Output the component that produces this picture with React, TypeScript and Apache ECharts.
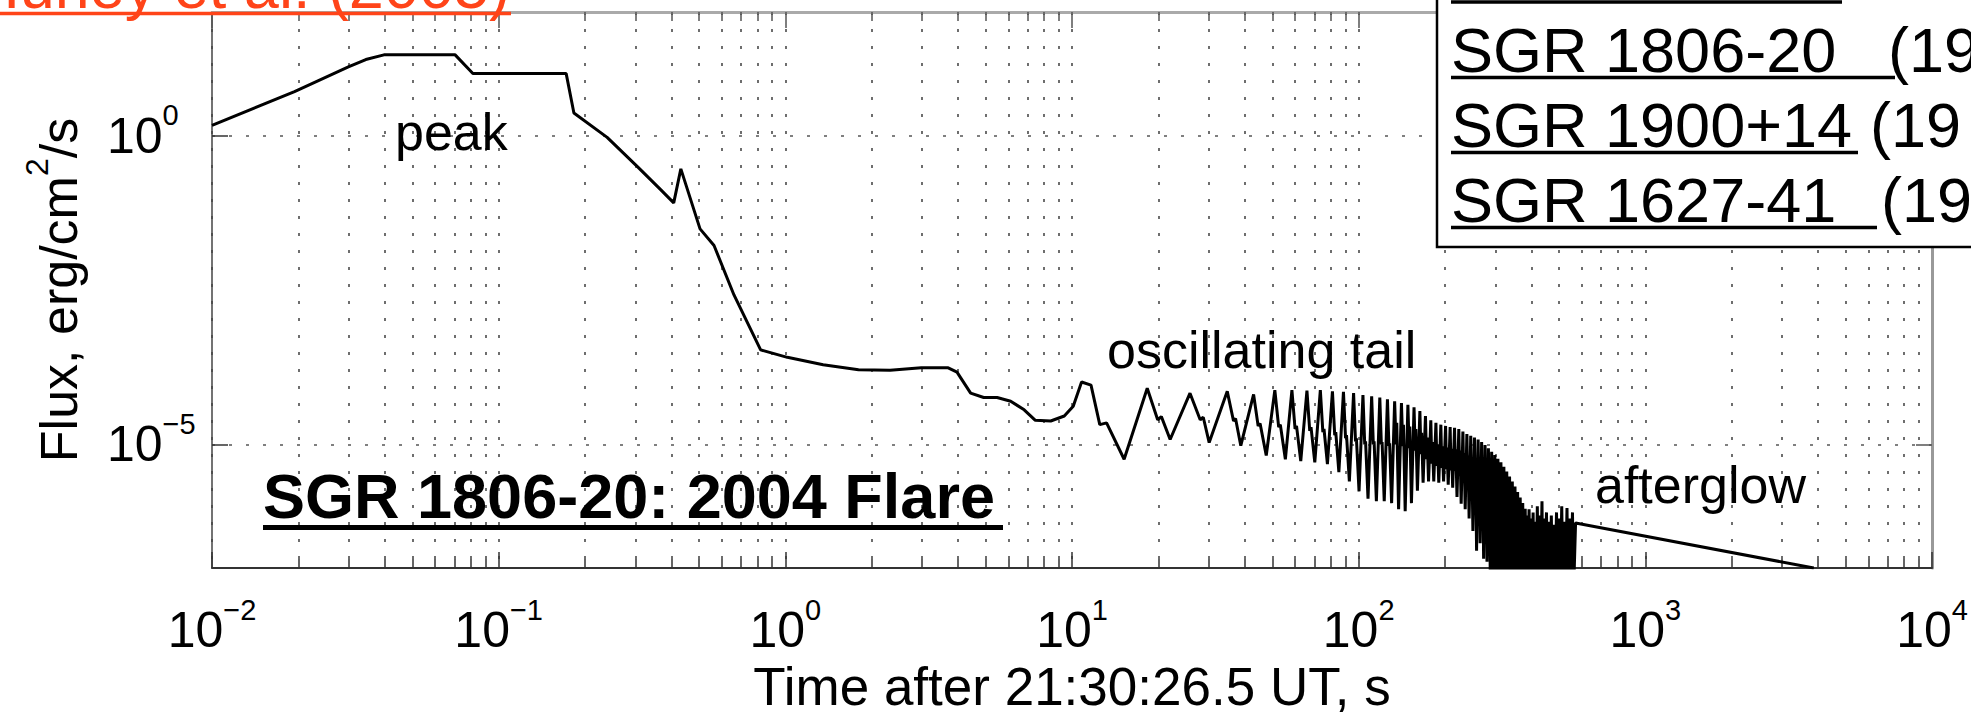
import React, { useEffect, useRef } from 'react';
import * as echarts from 'echarts';

// ---------- data (time in s, flux as log10 of erg/cm^2/s) ----------
const xMin = 0.01;
const xMax = 10000;
const yMin = 1e-7;
const yMax = 100;
const yTickValues = [1e-5, 1];

const flarePoints: [number, number][] = [
  [0.01, 0.165], [0.0194, 0.712], [0.0299, 1.11], [0.0344, 1.23], [0.0398, 1.306],
  [0.0705, 1.306], [0.0813, 1.003], [0.172, 1.003], [0.183, 0.366], [0.239, -0.03],
  [0.306, -0.51], [0.368, -0.88], [0.408, -1.09], [0.432, -0.54], [0.504, -1.51],
  [0.564, -1.78], [0.662, -2.58], [0.82, -3.47], [1.016, -3.59], [1.355, -3.71],
  [1.8, -3.79], [2.32, -3.8], [2.98, -3.76], [3.7, -3.76], [3.97, -3.83],
  [4.43, -4.17], [4.92, -4.24], [5.48, -4.24], [6.11, -4.3], [6.81, -4.44],
  [7.45, -4.61], [8.43, -4.62], [9.4, -4.54], [10.1, -4.38],
];

const tailPoints: [number, number][] = [
  [10.8, -3.99], [11.65, -4.04], [12.5, -4.68], [13.2, -4.65], [15.2, -5.24],
  [18.3, -4.09], [19.9, -4.6], [20.5, -4.55], [22.0, -4.92],
  [25.8, -4.17], [28.0, -4.6], [28.7, -4.56], [30.1, -4.97],
  [34.8, -4.14], [36.6, -4.62], [37.2, -4.58], [38.8, -5.02],
  [43.0, -4.19], [44.6, -4.7], [45.3, -4.66], [47.6, -5.18],
  [51.0, -4.12], [52.6, -4.72], [53.3, -4.68], [55.5, -5.24],
  [58.5, -4.12], [60.0, -4.75], [60.7, -4.7], [62.8, -5.27],
  [66.0, -4.13], [67.5, -4.78], [68.2, -4.72], [70.3, -5.29],
  [73.5, -4.12], [75.0, -4.8], [75.7, -4.75], [77.8, -5.32],
  [81.0, -4.14], [82.5, -4.85], [83.2, -4.8], [85.3, -5.45],
  [88.5, -4.15], [90.0, -4.9], [90.7, -4.85], [92.8, -5.6],
  [96.0, -4.17], [97.5, -4.95], [98.2, -4.9], [100.3, -5.76],
  [103.5, -4.2], [105.0, -5.0], [105.7, -4.95], [107.8, -5.88],
  [111.0, -4.22], [112.5, -5.0], [113.2, -4.95], [115.3, -5.92],
  [118.5, -4.24], [120.0, -5.0], [120.7, -4.96], [122.8, -5.92],
  [126.0, -4.27], [127.5, -5.02], [128.2, -4.98], [130.3, -5.95],
  [133.5, -4.3], [135.0, -5.0], [135.8, -4.65], [137.8, -6.05],
  [141.0, -4.33], [142.5, -5.03], [143.3, -4.68], [145.3, -6.08],
  [148.5, -4.36], [150.0, -5.06], [150.8, -4.71], [152.8, -5.95],
  [156.0, -4.4], [157.5, -5.1], [158.3, -4.75], [160.3, -5.75],
  [163.5, -4.46], [165.0, -5.16], [165.8, -4.81], [167.8, -5.62],
  [171.0, -4.54], [172.5, -5.24], [173.3, -4.89], [175.3, -5.6],
  [178.5, -4.61], [180.0, -5.31], [180.8, -4.96], [182.8, -5.6],
  [186.0, -4.65], [187.5, -5.35], [188.3, -5.0], [190.3, -5.62],
  [193.5, -4.68], [195.0, -5.38], [195.8, -5.03], [197.8, -5.6],
  [201.0, -4.7], [202.5, -5.4], [203.3, -5.05], [205.3, -5.65],
  [208.5, -4.72], [210.0, -5.42], [210.8, -5.07], [212.8, -5.7],
  [216.0, -4.73], [217.5, -5.43], [218.3, -5.08], [220.3, -5.85],
  [223.5, -4.75], [225.0, -5.45], [225.8, -5.1], [227.8, -5.96],
  [231.0, -4.79], [232.5, -5.49], [233.3, -5.14], [235.3, -6.05],
  [238.5, -4.83], [240.0, -5.53], [240.8, -5.18], [242.8, -6.2],
  [246.0, -4.86], [247.5, -5.56], [248.3, -5.21], [250.3, -6.4],
  [253.5, -4.89], [255.0, -5.59], [255.8, -5.24], [257.8, -6.72],
  [261.0, -4.92], [262.5, -5.62], [263.3, -5.27], [265.3, -6.6],
  [268.5, -4.96], [270.0, -5.66], [270.8, -5.31], [272.8, -6.85],
  [276.0, -5.01], [277.5, -5.71], [278.3, -5.36], [280.3, -6.9],
  [283.5, -5.06], [285.0, -5.76], [285.8, -5.41], [287.8, -7.2],
  [291.0, -5.12], [292.5, -5.82], [293.3, -5.47], [295.3, -7.3],
  [298.5, -5.17], [300.0, -5.87], [300.8, -5.52], [302.8, -7.3],
  [306.0, -5.23], [307.5, -5.93], [308.3, -5.58], [310.3, -7.3],
  [313.5, -5.29], [315.0, -5.99], [315.8, -5.64], [317.8, -7.3],
  [321.0, -5.36], [322.5, -6.06], [323.3, -5.71], [325.3, -7.3],
  [328.5, -5.44], [330.0, -6.14], [330.8, -5.79], [332.8, -7.3],
  [336.0, -5.52], [337.5, -6.22], [338.3, -5.87], [340.3, -7.3],
  [343.5, -5.6], [345.0, -6.3], [345.8, -5.95], [347.8, -7.3],
  [351.0, -5.68], [352.5, -6.38], [353.3, -6.03], [355.3, -7.3],
  [358.5, -5.77], [360.0, -6.47], [360.8, -6.12], [362.8, -7.3],
  [366.0, -5.86], [367.5, -6.56], [368.3, -6.21], [370.3, -7.3],
  [373.5, -5.95], [375.0, -6.65], [375.8, -6.3], [377.8, -7.3],
  [381.0, -6.04], [382.5, -6.74], [383.3, -6.39], [384.5, -7.3],
];

const noisePoints: [number, number][] = [
  [386, -6.15], [389, -7.4], [393, -6.05], [396, -7.4], [399, -6.2], [402, -7.3],
  [406, -6.1], [409, -7.4], [413, -6.25], [416, -7.3], [420, -6.0], [423, -7.4],
  [428, -6.15], [431, -7.3], [436, -5.92], [439, -7.4], [444, -6.2], [447, -7.3],
  [452, -6.1], [456, -7.4], [461, -6.25], [465, -7.3], [470, -6.15], [474, -7.4],
  [480, -6.3], [484, -7.3], [490, -6.1], [494, -7.4], [500, -6.2], [505, -7.3],
  [511, -6.0], [516, -7.4], [522, -6.25], [527, -7.3], [533, -6.03], [538, -7.4],
  [545, -6.2], [550, -7.3], [557, -6.1], [562, -7.4],
];

const afterglowPoints: [number, number][] = [
  [571, -6.27], [3870, -7.0],
];

const legendRows = ['SGR 1806-20', 'SGR 1900+14', 'SGR 1627-41'];
const legendYears = ['(19', '(19', '(19'];

// ---------- styling ----------
const FONT = "'Liberation Sans', Arial, Helvetica, sans-serif";
const gridLine = { type: [3, 14] as number[], color: '#555', width: 1.7 };

const supText = (n: number) => (n < 0 ? '\u2212' + Math.abs(n) : String(n));
const logLabel = (v: number) => `{b|10}{s|${supText(Math.round(Math.log10(v)))}}`;
const labelRich = {
  b: { fontSize: 50, fontFamily: FONT, color: '#000', lineHeight: 70 },
  s: { fontSize: 29, fontFamily: FONT, color: '#000', verticalAlign: 'top' },
};

const textEl = (
  text: string, x: number, baseline: number, size: number,
  opts: { weight?: string; color?: string; align?: string } = {}
) => ({
  type: 'text',
  x,
  y: baseline - 0.3465 * size,
  z: 100,
  silent: true,
  style: {
    text,
    fontSize: size,
    fontFamily: FONT,
    fontWeight: opts.weight || 'normal',
    fill: opts.color || '#000',
    align: opts.align || 'left',
    textAlign: opts.align || 'left',
    verticalAlign: 'middle',
    textVerticalAlign: 'middle',
  },
});

const bar = (x1: number, x2: number, y: number, h: number, color = '#000') => ({
  type: 'rect',
  z: 100,
  silent: true,
  shape: { x: x1, y: y - h / 2, width: x2 - x1, height: h },
  style: { fill: color },
});

export default function App() {
  const ref = useRef<HTMLDivElement>(null);

  useEffect(() => {
    if (!ref.current) return;
    const chart = echarts.init(ref.current, null, { renderer: 'svg' });

    const data = [...flarePoints, ...tailPoints, ...noisePoints, ...afterglowPoints].map(
      ([t, lf]) => [t, Math.pow(10, lf)]
    );

    const legendEls: any[] = [
      {
        type: 'rect', z: 90, silent: true,
        shape: { x: 1437, y: -10, width: 600, height: 257 },
        style: { fill: '#fff', stroke: '#000', lineWidth: 2.5 },
      },
      bar(1451, 1842, 2, 3.5),
    ];
    const rowBase = [72, 147, 222];
    const rowUnderlineEnd = [1895, 1858, 1877];
    const rowYearX = [1888, 1870, 1881];
    legendRows.forEach((r, i) => {
      legendEls.push(textEl(r, 1451, rowBase[i], 63));
      legendEls.push(textEl(legendYears[i], rowYearX[i], rowBase[i], 63));
      legendEls.push(bar(1451, rowUnderlineEnd[i], rowBase[i] + 5.5, 3.5));
    });

    const option: any = {
      animation: false,
      backgroundColor: '#fff',
      grid: { left: 212, right: 39, top: 12, bottom: 140, containLabel: false },
      xAxis: [
        {
          type: 'log', logBase: 10, min: xMin, max: xMax, position: 'bottom', splitNumber: 6,
          axisLine: { show: true, onZero: false, lineStyle: { color: '#333', width: 2 } },
          axisTick: { show: true, inside: true, length: 16, lineStyle: { color: '#333', width: 1.5 } },
          minorTick: { show: true, splitNumber: 9, length: 9, lineStyle: { color: '#333', width: 1.5 } },
          splitLine: { show: true, lineStyle: gridLine },
          minorSplitLine: { show: true, lineStyle: gridLine },
          axisLabel: { margin: 27, formatter: logLabel, rich: labelRich },
          name: 'Time after 21:30:26.5 UT, s',
          nameLocation: 'middle',
          nameGap: 92,
          nameTextStyle: { fontSize: 53, fontFamily: FONT, color: '#000', lineHeight: 53 },
        },
        {
          type: 'log', logBase: 10, min: xMin, max: xMax, position: 'top', splitNumber: 6,
          axisLine: { show: true, onZero: false, lineStyle: { color: '#aaa', width: 3 } },
          axisTick: { show: true, inside: true, length: 16, lineStyle: { color: '#555', width: 1.5 } },
          minorTick: { show: true, splitNumber: 9, length: 9, lineStyle: { color: '#555', width: 1.5 } },
          splitLine: { show: false },
          minorSplitLine: { show: false },
          axisLabel: { show: false },
        },
      ],
      yAxis: [
        {
          type: 'log', logBase: 10, min: yMin, max: yMax, position: 'left',
          axisLine: { show: true, onZero: false, lineStyle: { color: '#444', width: 1.5 } },
          axisTick: { show: true, inside: true, length: 16, customValues: yTickValues, lineStyle: { color: '#333', width: 1.5 } },
          minorTick: { show: false },
          splitLine: { show: true, lineStyle: gridLine },
          axisLabel: { customValues: yTickValues, align: 'left', margin: 105, formatter: logLabel, rich: labelRich },
          name: '{m|Flux, erg/cm}{sup|2}{m|/s}',
          nameLocation: 'middle',
          nameGap: 115,
          nameTextStyle: {
            fontSize: 52, fontFamily: FONT, color: '#000',
            rich: {
              m: { fontSize: 52, fontFamily: FONT, color: '#000', lineHeight: 76 },
              sup: { fontSize: 32, fontFamily: FONT, color: '#000', verticalAlign: 'top' },
            },
          },
        },
        {
          type: 'log', logBase: 10, min: yMin, max: yMax, position: 'right',
          axisLine: { show: true, onZero: false, lineStyle: { color: '#999', width: 3 } },
          axisTick: { show: true, inside: true, length: 16, customValues: yTickValues, lineStyle: { color: '#555', width: 1.5 } },
          minorTick: { show: false },
          splitLine: { show: false },
          axisLabel: { show: false, customValues: yTickValues },
        },
      ],
      series: [
        {
          type: 'line',
          xAxisIndex: 0,
          yAxisIndex: 0,
          data,
          symbol: 'none',
          showSymbol: false,
          clip: true,
          silent: true,
          lineStyle: { color: '#000', width: 3 },
          z: 5,
        },
      ],
      graphic: [
        textEl('peak', 395, 150, 52),
        textEl('oscillating tail', 1107, 368, 52),
        textEl('afterglow', 1595, 503, 52),
        textEl('SGR 1806-20: 2004 Flare', 263, 518, 63, { weight: 'bold' }),
        bar(263, 1003, 527.5, 5),
        textEl('Hurley et al. (2005)', 510, 8, 63, { color: '#ff4419', align: 'right' }),
        bar(0, 511, 13.5, 3.5, '#ff4419'),
        ...legendEls,
      ],
    };

    chart.setOption(option);
    return () => chart.dispose();
  }, []);

  return (
    <div
      ref={ref}
      style={{ position: 'fixed', left: 0, top: 0, width: 1971, height: 718, background: '#fff' }}
    />
  );
}
